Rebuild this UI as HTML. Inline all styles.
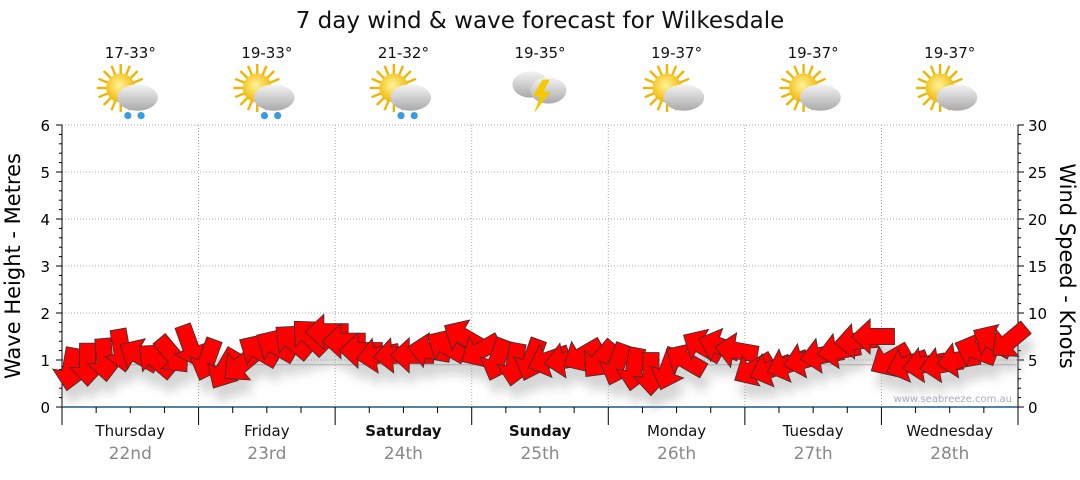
<!DOCTYPE html>
<html><head><meta charset="utf-8">
<style>
body{margin:0;background:#fff;font-family:"Liberation Sans","DejaVu Sans",sans-serif;}
svg text{font-family:"DejaVu Sans","Liberation Sans",sans-serif;}
</style></head>
<body>
<svg id="c" width="1080" height="475" viewBox="0 0 1080 475">
<defs>
<filter id="sh" x="-50%" y="-50%" width="200%" height="200%"><feGaussianBlur stdDeviation="5"/></filter>
<radialGradient id="sun" cx="0.45" cy="0.4" r="0.6"><stop offset="0" stop-color="#fff59a"/><stop offset="1" stop-color="#f2b400"/></radialGradient>
<linearGradient id="cl" x1="0" y1="0" x2="0" y2="1"><stop offset="0" stop-color="#f4f4f4"/><stop offset="1" stop-color="#a9a9a9"/></linearGradient>
</defs>
<text x="540" y="28" text-anchor="middle" font-size="23" fill="#111">7 day wind &amp; wave forecast for Wilkesdale</text>
<g id="plot"></g>
</svg>
<script>
const days=["Thursday","Friday","Saturday","Sunday","Monday","Tuesday","Wednesday"];
const dates=["22nd","23rd","24th","25th","26th","27th","28th"];
const temps=["17-33°","19-33°","21-32°","19-35°","19-37°","19-37°","19-37°"];
const icons=["rain","rain","rain","storm","cloud","cloud","cloud"];
const leftTicks=[0,1,2,3,4,5,6];
const rightTicks=[0,5,10,15,20,25,30];
const windSpeed=[4,4.5,5,6,5.5,5,5.5,6.5, 5,4,4.5,6,6.5,7,7.5,8, 7,6,5.5,5.5,5.5,6,6.5,7.5, 6,5,4.5,5,5,5,5.5,5, 4.5,4,3.5,4,5,6.5,6.5,6, 4,4,4.5,5,5.5,6,7,7.5, 5,4.5,4.5,4.5,5,6,7,7];
const windDir=[190,180,175,170,300,310,140,160, 200,210,230,300,300,310,315,270, 270,270,260,265,270,280,300,300, 240,200,190,200,250,260,240,220, 200,190,180,200,300,300,290,280, 240,250,250,255,260,260,265,270, 240,250,260,260,260,290,300,230];
const waveHeight=[0.9,0.9,0.9,0.9,0.9,0.9,0.9,0.9];
const NS="http://www.w3.org/2000/svg";
const X0=62,X1=1018,Y0=407,Y1=125;
const dayW=(X1-X0)/7;
const xHour=h=>X0+h/(24*7)*(X1-X0);
const yM=v=>Y0-v/6*(Y0-Y1);
const yK=v=>Y0-v/30*(Y0-Y1);
const g=document.getElementById('plot');
function mk(t,a,p){const e=document.createElementNS(NS,t);for(const k in a)e.setAttribute(k,a[k]);(p||g).appendChild(e);return e;}
leftTicks.forEach(v=>{if(v>0){const l=mk('line',{x1:X0,x2:X1,y1:yM(v),y2:yM(v),stroke:'#aaa','stroke-dasharray':'1,2'});

}});
for(let d=1;d<7;d++){const l=mk('line',{x1:X0+d*dayW,x2:X0+d*dayW,y1:Y1,y2:Y0,stroke:'#aaa','stroke-dasharray':'1,2'});

}
mk('line',{x1:X0,x2:X0,y1:Y1,y2:Y0,stroke:'#000'});
mk('line',{x1:X1,x2:X1,y1:Y1,y2:Y0,stroke:'#000'});
mk('line',{x1:X0,x2:X1,y1:Y0,y2:Y0,stroke:'#1b5a80','stroke-width':1.5});
leftTicks.forEach(v=>{mk('line',{x1:X0-6,x2:X0,y1:yM(v),y2:yM(v),stroke:'#000'});
const t=mk('text',{x:X0-12,y:yM(v)+6,'text-anchor':'end','font-size':15,fill:'#000'});t.textContent=v;


if(v<6)for(let k=1;k<5;k++)mk('line',{x1:X0-3,x2:X0,y1:yM(v+k/5),y2:yM(v+k/5),stroke:'#000'});});
rightTicks.forEach(v=>{mk('line',{x1:X1,x2:X1+6,y1:yK(v),y2:yK(v),stroke:'#000'});
const t=mk('text',{x:X1+10,y:yK(v)+6,'font-size':15,fill:'#000'});t.textContent=v;


if(v<30)for(let k=1;k<5;k++)mk('line',{x1:X1,x2:X1+3,y1:yK(v+k),y2:yK(v+k),stroke:'#000'});});
for(let h=0;h<=168;h+=6){mk('line',{x1:xHour(h),x2:xHour(h),y1:Y0,y2:Y0+(h%24==0?18:6),stroke:'#000'});}
let t=mk('text',{x:0,y:0,'font-size':21,'text-anchor':'middle',transform:`translate(20,266) rotate(-90)`});t.textContent='Wave Height - Metres';

t=mk('text',{x:0,y:0,'font-size':21,'text-anchor':'middle',transform:`translate(1060,266) rotate(90)`});t.textContent='Wind Speed - Knots';

t=mk('text',{x:1012,y:402,'text-anchor':'end','font-size':10,fill:'#aab'});t.textContent='www.seabreeze.com.au';

days.forEach((d,i)=>{const cx=X0+dayW*(i+0.5);
let a=mk('text',{x:cx,y:436,'text-anchor':'middle','font-size':15,'font-weight':(i==2||i==3)?'bold':'normal',fill:'#111'});a.textContent=d;

a=mk('text',{x:cx,y:459,'text-anchor':'middle','font-size':17,fill:'#888'});a.textContent=dates[i];

a=mk('text',{x:cx,y:58,'text-anchor':'middle','font-size':15,fill:'#111'});a.textContent=temps[i];

const ic=mk('g',{transform:`translate(${cx},94) scale(1.2)`});

if(icons[i]=='storm'){
 mk('ellipse',{cx:-8,cy:-8,rx:15,ry:11,fill:'url(#cl)'},ic);
 mk('ellipse',{cx:7,cy:-3,rx:15,ry:11,fill:'url(#cl)'},ic);
 mk('polygon',{points:'2,-12 -6,2 0,2 -5,16 9,-2 3,-2 8,-12',fill:'#f5c800'},ic);
}else{
 for(let r=0;r<16;r++){const an=r*Math.PI/8;mk('line',{x1:-8+Math.cos(an)*10,y1:-5+Math.sin(an)*10,x2:-8+Math.cos(an)*20,y2:-5+Math.sin(an)*20,stroke:'#f2b400','stroke-width':2},ic);}
 mk('circle',{cx:-8,cy:-5,r:12,fill:'url(#sun)'},ic);
 mk('ellipse',{cx:6,cy:3,rx:17,ry:11,fill:'url(#cl)'},ic);
 if(icons[i]=='rain'){mk('circle',{cx:-2,cy:18,r:3,fill:'#3a9be0'},ic);mk('circle',{cx:9,cy:18,r:3,fill:'#3a9be0'},ic);}
}});
const wp=waveHeight.map((v,i)=>`${xHour(i*24)},${yM(v)}`).join(' ');
const wl=mk('polyline',{points:wp,fill:'none',stroke:'#bbb','stroke-width':1});

const shp='0,-16 13,-2 6,-2 6,16 -6,16 -6,-2 -13,-2';
const shg=mk('g',{filter:'url(#sh)',opacity:0.35});
windSpeed.forEach((v,i)=>{mk('polygon',{points:shp,fill:'#888',transform:`translate(${xHour(i*3+1.5)+4},${yK(v)+14}) rotate(${windDir[i]}) scale(1.35)`},shg);});
windSpeed.forEach((v,i)=>{const p=mk('polygon',{points:shp,fill:'#f00',stroke:'#333','stroke-width':0.6,
 transform:`translate(${xHour(i*3+1.5)},${yK(v)}) rotate(${windDir[i]}) scale(1.35)`});

});
</script>
</body></html>
